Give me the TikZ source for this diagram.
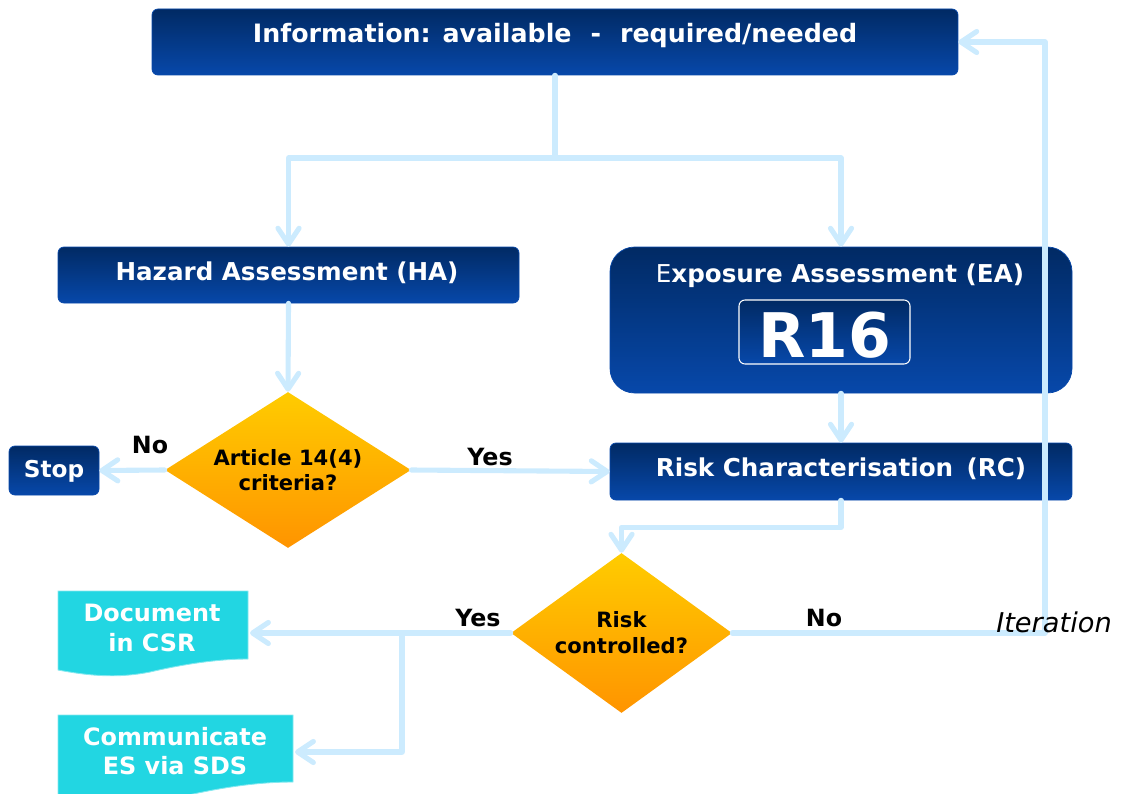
\documentclass[tikz,border=0pt]{standalone}
\usepackage{fontspec}
\setmainfont{DejaVu Sans}
\usetikzlibrary{arrows.meta,fit,shapes.geometric}
\definecolor{navyT}{HTML}{012A64}
\definecolor{navyB}{HTML}{0748AA}
\definecolor{flow}{HTML}{CCEBFE}
\definecolor{diaT}{HTML}{FFCC00}
\definecolor{diaB}{HTML}{FF9400}
\definecolor{cyanbox}{HTML}{22D6E2}
\begin{document}
\begin{tikzpicture}[x=0.02cm,y=-0.02cm,
  bluebox/.style={draw=navyB, line width=0.4pt, top color=navyT, bottom color=navyB, rounded corners=3.4pt, inner sep=0pt},
  btext/.style={text=white, font=\bfseries\fontsize{14}{16}\selectfont, inner sep=0pt},
  flowline/.style={draw=flow, line width=2.9pt, line cap=round, line join=round},
  arr/.style={flowline, -{Straight Barb[length=9pt,width=12pt,line cap=round,line join=round]}},
  decision/.style={diamond, inner sep=0pt, top color=diaT, bottom color=diaB, font=\bfseries\fontsize{12}{14.2}\selectfont, align=center, text=black},
  lbl/.style={font=\bfseries\fontsize{13.5}{16}\selectfont, text=black, inner sep=0pt},
  cyantext/.style={text=white, font=\bfseries\fontsize{13.6}{16.8}\selectfont, align=center, inner sep=0pt},
  docshape/.style={fill=cyanbox, draw=cyanbox!55!white, line width=0.5pt},
]
\useasboundingbox (0,0) rectangle (1122,794);

% boxes
\node[bluebox, fit={(152,9) (958,75)}] (info) {};
\node[btext, font=\bfseries\fontsize{14.4}{17}\selectfont] (infot) at (555,36) {Information: available\hspace{0.75em}-\hspace{0.75em}required/needed};

\node[bluebox, fit={(58,247) (519,303)}] (ha) {};
\node[btext] (hat) at (287,273) {Hazard Assessment (HA)};

\node[bluebox, rounded corners=14pt, fit={(610,247) (1072,393)}] (ea) {};
\node[btext] (eat) at (840,276) {{\mdseries E}xposure Assessment (EA)};
\node[draw=white, line width=0.6pt, rounded corners=3.4pt, top color=navyT, bottom color=navyB, inner sep=0pt, fit={(739,300) (910,364)}] (r16) {};
\node[text=white, font=\bfseries\fontsize{35}{40}\selectfont, inner sep=0pt] (r16t) at (825,335) {R16};

\node[bluebox, fit={(610,443) (1072,500)}] (rc) {};
\node[btext] (rct) at (841,469) {Risk Characterisation\hspace{0.2em} (RC)};

\node[bluebox, fit={(9,446) (99,495)}] (stop) {};
\node[btext, font=\bfseries\fontsize{13.2}{15}\selectfont] (stopt) at (54,471) {Stop};

% decisions
\node[decision, aspect=1.58, minimum width=4.92cm, minimum height=3.12cm] (d1) at (288,470) {Article 14(4)\\criteria?};
\node[decision, aspect=1.38, minimum width=4.42cm, minimum height=3.2cm, font=\bfseries\fontsize{12}{14.7}\selectfont] (d2) at (621.5,633) {Risk\\controlled?};

% document shapes
\path[docshape] (58,591) -- (248,591) -- (248,659) .. controls (215,659) and (180,665) .. (150,672) .. controls (115,679) and (85,675) .. (58,670) -- cycle;
\node[cyantext] (doc) at (152,628) {Document\\in CSR};
\path[docshape] (58,715) -- (293,715) -- (293,782) .. controls (250,782) and (210,790) .. (175,798) .. controls (140,806) and (90,804) .. (58,800) -- cycle;
\node[cyantext] (comm) at (175,751) {Communicate\\ES via SDS};

\coordinate (j1) at (555,158);
\coordinate (docR) at (250,633);
\coordinate (commR) at (295,752);
\coordinate (br) at (402,633);
\coordinate (iter) at (1045,633);

% connectors
\draw[flowline] (info.south) -- (j1);
\draw[arr] (j1) -| (ha.north);
\draw[arr] (j1) -| (ea.north);
\draw[arr] (ha.south) -- (d1.north);
\draw[arr] (d1.west) -- (stop.east);
\draw[arr] (d1.east) -- (rc.west);
\draw[arr] (ea.south) -- (rc.north);
\draw[arr] (rc.south) -- ++(0,27) -| (d2.north);
\draw[arr] (d2.west) -- (docR);
\draw[arr] (br) |- (commR);
\draw[arr] (d2.east) -- (iter) |- (info.east);

% labels
\node[lbl] (no1) at (150,445) {No};
\node[lbl] (yes1) at (490,457) {Yes};
\node[lbl] (yes2) at (478,618) {Yes};
\node[lbl] (no2) at (824,618) {No};
\node[font=\itshape\fontsize{15.5}{18}\selectfont, text=black, inner sep=0pt] (itl) at (1054,622) {Iteration};
\end{tikzpicture}
\end{document}
